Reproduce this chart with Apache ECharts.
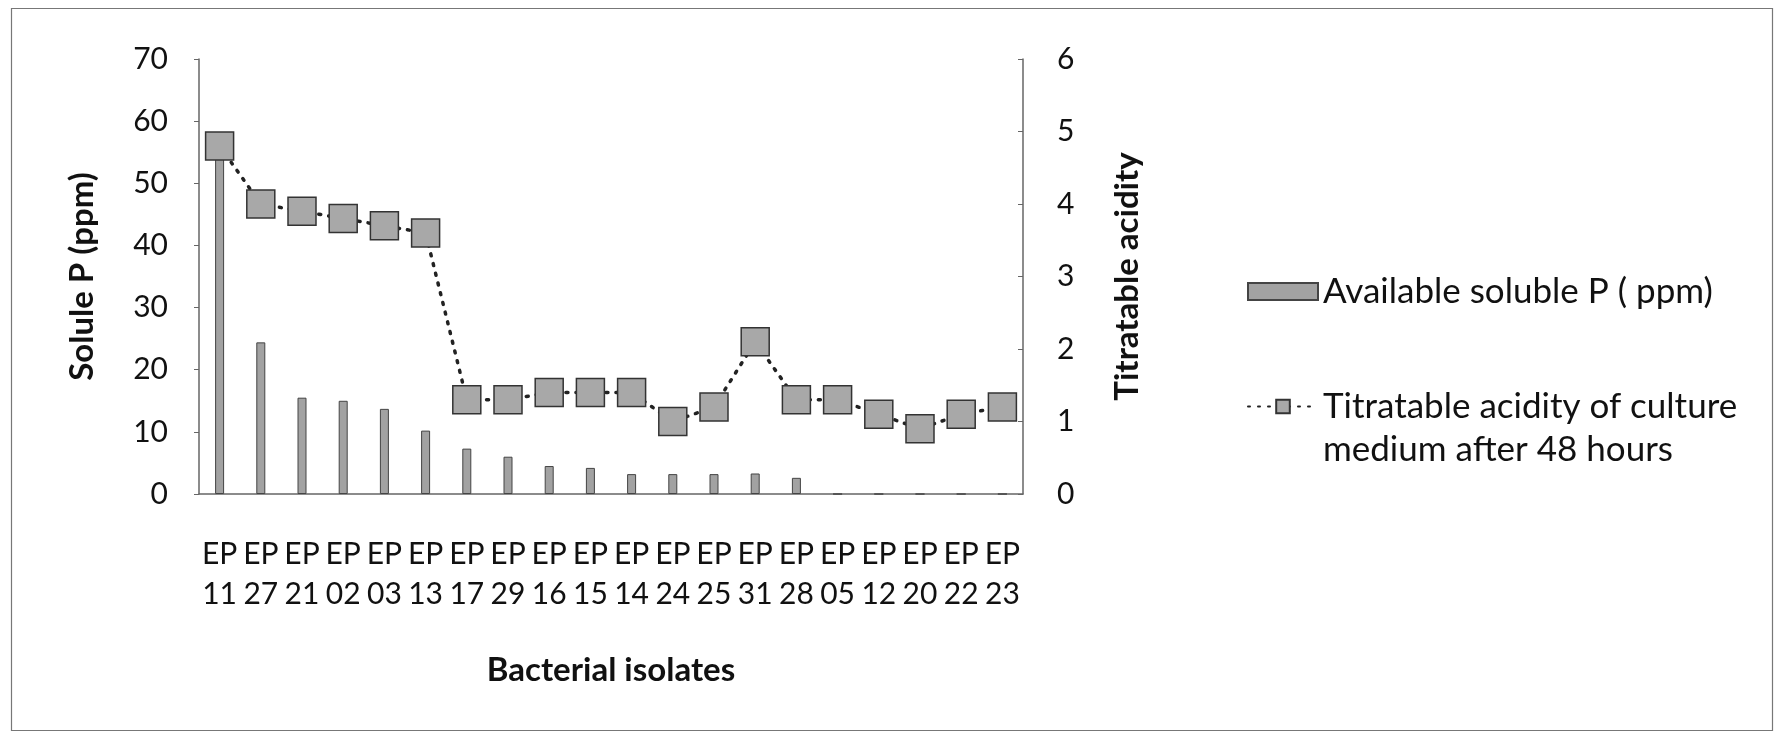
<!DOCTYPE html>
<html>
<head>
<meta charset="utf-8">
<script src="https://cdn.jsdelivr.net/npm/echarts@6/dist/echarts.min.js"></script>
<style>
html,body{margin:0;padding:0;background:#fff;}
#c{width:1784px;height:735px;}
</style>
</head>
<body>
<div id="c"></div>
<script>
const categories = ["EP\n11","EP\n27","EP\n21","EP\n02","EP\n03","EP\n13","EP\n17","EP\n29","EP\n16","EP\n15","EP\n14","EP\n24","EP\n25","EP\n31","EP\n28","EP\n05","EP\n12","EP\n20","EP\n22","EP\n23"];
const solubleP = [56, 24.4, 15.5, 15.0, 13.7, 10.2, 7.3, 6.0, 4.5, 4.2, 3.2, 3.2, 3.2, 3.3, 2.6, 0, 0, 0, 0, 0];
const acidity = [4.8, 4.0, 3.9, 3.8, 3.7, 3.6, 1.3, 1.3, 1.4, 1.4, 1.4, 1.0, 1.2, 2.1, 1.3, 1.3, 1.1, 0.9, 1.1, 1.2];
const leftTicks = {min: 0, max: 70, interval: 10};
const rightTicks = {min: 0, max: 6, interval: 1};
const barName = "Available soluble P ( ppm)";
const lineName = "Titratable acidity of culture\nmedium after 48 hours";

const FONT = "Lato";
const LEG_FS = 35, LEG_LH = 43;
const chart = echarts.init(document.getElementById('c'), null, {renderer: 'canvas'});
chart.setOption({
  backgroundColor: '#fff',
  animation: false,
  textStyle: {fontFamily: FONT, color: '#111'},
  grid: {left: 199, right: 761, top: 59, bottom: 241, containLabel: false},
  graphic: [{
    type: 'rect', left: 9, top: 6,
    shape: {width: 1761, height: 722},
    style: {fill: 'none', stroke: '#777', lineWidth: 1.2},
    z: -1
  }],
  legend: {
    orient: 'vertical',
    left: 1242, top: 265,
    itemGap: 29,
    itemWidth: 70, itemHeight: 17,
    formatter: function (name) { return name === lineName ? ' \n' + name : name; },
    textStyle: {fontFamily: FONT, fontSize: LEG_FS, color: '#111', lineHeight: LEG_LH},
    data: [
      {name: barName, icon: 'rect'},
      {name: lineName}
    ]
  },
  xAxis: {
    type: 'category',
    data: categories,
    name: 'Bacterial isolates',
    nameLocation: 'middle',
    nameGap: 160,
    nameTextStyle: {fontFamily: FONT, fontSize: 33, fontWeight: 'bold', color: '#111'},
    axisLine: {lineStyle: {color: '#666', width: 1.5}},
    axisTick: {show: false},
    axisLabel: {interval: 0, margin: 40, fontSize: 30, lineHeight: 40, color: '#111', fontFamily: FONT}
  },
  yAxis: [{
    type: 'value', position: 'left',
    min: leftTicks.min, max: leftTicks.max, interval: leftTicks.interval,
    name: 'Solule P (ppm)', nameLocation: 'middle', nameGap: 100, nameRotate: 90,
    nameTextStyle: {fontFamily: FONT, fontSize: 33, fontWeight: 'bold', color: '#111'},
    axisLine: {show: true, lineStyle: {color: '#666', width: 1.5}},
    axisTick: {show: true, length: 5, lineStyle: {color: '#666'}},
    splitLine: {show: false},
    axisLabel: {margin: 31, fontSize: 30, color: '#111', fontFamily: FONT}
  }, {
    type: 'value', position: 'right',
    min: rightTicks.min, max: rightTicks.max, interval: rightTicks.interval,
    name: 'Titratable acidity', nameLocation: 'middle', nameGap: 88, nameRotate: 90,
    nameTextStyle: {fontFamily: FONT, fontSize: 33, fontWeight: 'bold', color: '#111'},
    axisLine: {show: true, lineStyle: {color: '#666', width: 1.5}},
    axisTick: {show: true, inside: true, length: 5, lineStyle: {color: '#666'}},
    splitLine: {show: false},
    axisLabel: {margin: 34, fontSize: 30, color: '#111', fontFamily: FONT}
  }],
  series: [{
    name: barName,
    type: 'bar',
    yAxisIndex: 0,
    data: solubleP,
    barWidth: 9,
    itemStyle: {color: '#a2a2a2', borderColor: '#444', borderWidth: 1}
  }, {
    name: lineName,
    type: 'line',
    yAxisIndex: 1,
    data: acidity,
    symbol: 'rect',
    symbolSize: 28,
    lineStyle: {color: '#222', width: 3.5, type: [2, 8], cap: 'round'},
    itemStyle: {color: '#a8a8a8', borderColor: '#333', borderWidth: 1.5},
    z: 3
  }]
});
</script>
</body>
</html>
